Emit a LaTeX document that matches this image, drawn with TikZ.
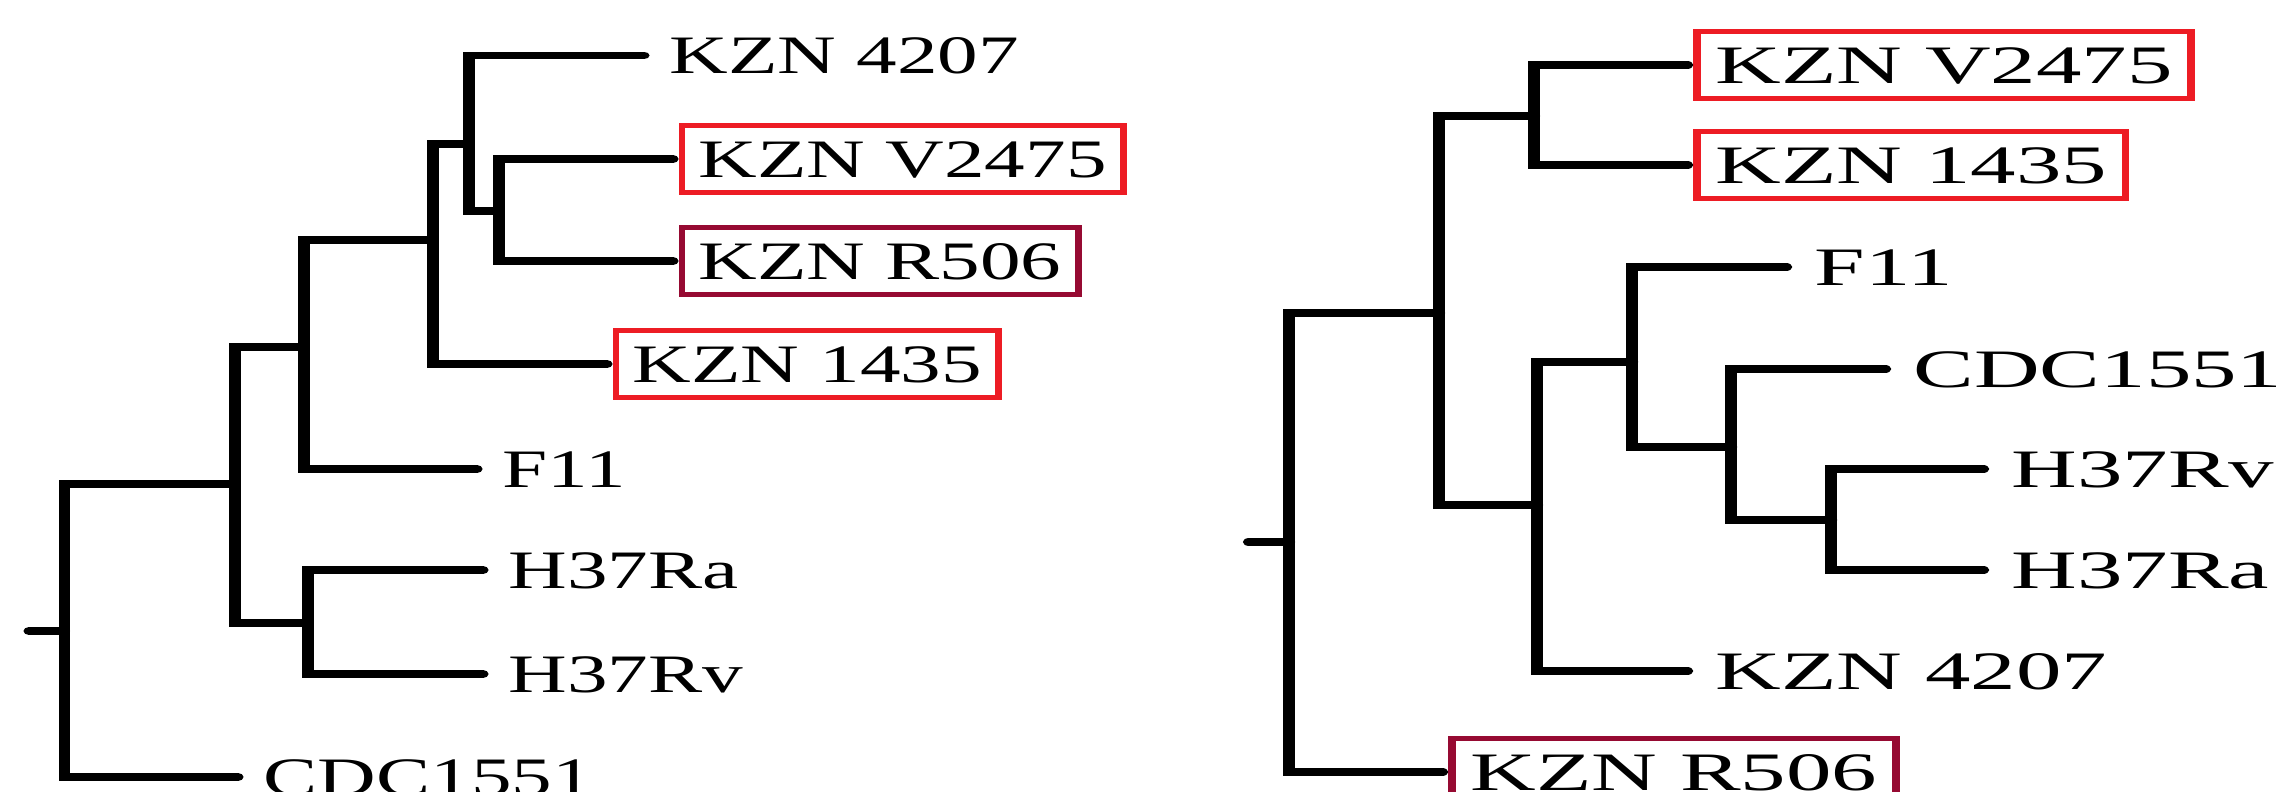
\documentclass[tikz,border=0pt]{standalone}
\usepackage{fontspec}
\setmainfont{Liberation Serif}
\definecolor{boxred}{RGB}{237, 28, 36}
\definecolor{boxwine}{RGB}{150, 10, 50}

\begin{document}
\begin{tikzpicture}[
  branch/.style={line width=2.1pt, line cap=round},
  leaf/.style={anchor=west, font=\fontsize{15.4}{18}\selectfont, inner xsep=0.11cm, inner ysep=0.15cm,
    outer xsep=0.06cm, outer ysep=0pt, text height=0.37cm, text depth=0pt},
  tag/.style={leaf, draw=#1, line width=1.3pt}
]
  \useasboundingbox (0,0) rectangle (22.96,7.91);

  % left tree
  \begin{scope}[transform canvas={xscale=1.5}, x=0.66667cm]
    \coordinate (lstub) at (0.29,1.60);
    \coordinate (lroot) at (0.645,1.60);
    \coordinate (ln1) at (2.35,3.07);
    \coordinate (lh) at (3.08,1.68);
    \coordinate (ln2) at (3.04,4.44);
    \coordinate (ln3) at (4.33,5.51);
    \coordinate (ln4) at (4.69,6.47);
    \coordinate (ln5) at (4.99,5.80);

    \node[leaf] (l4207) at (6.44,7.355) {KZN 4207};
    \node[tag=boxred] (lv) at (6.73,6.32) {KZN V2475};
    \node[tag=boxwine] (lr) at (6.73,5.30) {KZN R506};
    \node[tag=boxred] (l1435) at (6.07,4.27) {KZN 1435};
    \node[leaf] (lf11) at (4.77,3.22) {F11};
    \node[leaf] (lra) at (4.83,2.21) {H37Ra};
    \node[leaf] (lrv) at (4.83,1.17) {H37Rv};
    \node[leaf] (lcdc) at (2.38,0.14) {CDC1551};

    \draw[branch] (lstub) -- (lroot);
    \draw[branch] (ln1) -| (lroot) |- (lcdc.west);
    \draw[branch] (ln2) -| (ln1) |- (lh);
    \draw[branch] (lra.west) -| (lh) |- (lrv.west);
    \draw[branch] (ln3) -| (ln2) |- (lf11.west);
    \draw[branch] (ln4) -| (ln3) |- (l1435.west);
    \draw[branch] (l4207.west) -| (ln4) |- (ln5);
    \draw[branch] (lv.west) -| (ln5) |- (lr.west);
  \end{scope}

  % right tree
  \begin{scope}[transform canvas={xscale=1.68}, x=0.59524cm]
    \coordinate (rstub) at (12.49,2.49);
    \coordinate (rroot) at (12.89,2.49);
    \coordinate (rm1) at (14.39,4.78);
    \coordinate (rm2) at (15.34,6.75);
    \coordinate (rm3) at (15.37,2.86);
    \coordinate (rm4) at (16.32,4.29);
    \coordinate (rm5) at (17.31,3.44);
    \coordinate (rm6) at (18.31,2.71);

    \node[tag=boxred] (rv) at (16.87,7.26) {KZN V2475};
    \node[tag=boxred] (r1435) at (16.87,6.26) {KZN 1435};
    \node[leaf] (rf11) at (17.86,5.24) {F11};
    \node[leaf] (rcdc) at (18.85,4.22) {CDC1551};
    \node[leaf] (rrv) at (19.83,3.22) {H37Rv};
    \node[leaf] (rra) at (19.83,2.21) {H37Ra};
    \node[leaf] (r4207) at (16.87,1.20) {KZN 4207};
    \node[tag=boxwine] (rr) at (14.42,0.19) {KZN R506};

    \draw[branch] (rstub) -- (rroot);
    \draw[branch] (rm1) -| (rroot) |- (rr.west);
    \draw[branch] (rm2) -| (rm1) |- (rm3);
    \draw[branch] (rv.west) -| (rm2) |- (r1435.west);
    \draw[branch] (rm4) -| (rm3) |- (r4207.west);
    \draw[branch] (rf11.west) -| (rm4) |- (rm5);
    \draw[branch] (rcdc.west) -| (rm5) |- (rm6);
    \draw[branch] (rrv.west) -| (rm6) |- (rra.west);
  \end{scope}
\end{tikzpicture}
\end{document}
